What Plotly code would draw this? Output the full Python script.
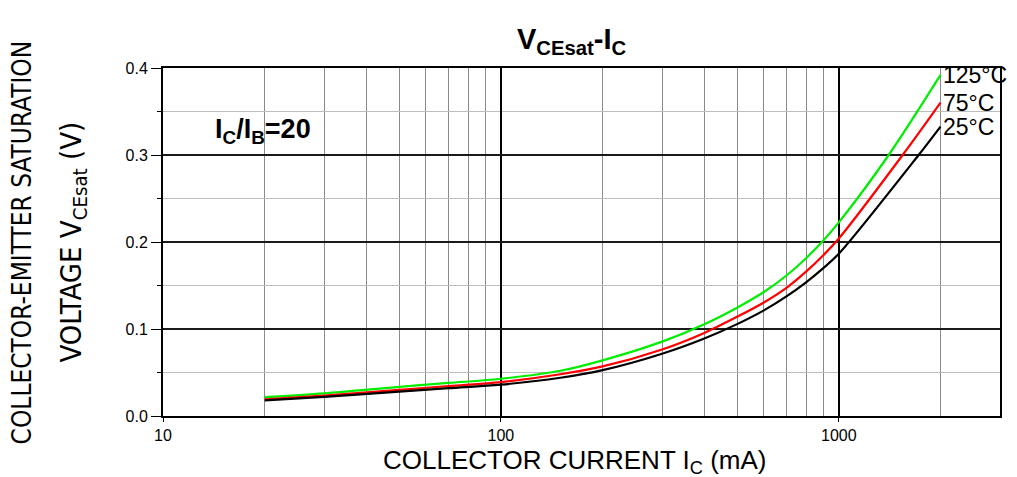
import math
import plotly.graph_objects as go

# Collector current (mA) sample points for each curve
ic_125 = [20, 30, 50, 70, 100, 150, 200, 300, 400, 500, 600, 700, 800, 900, 1000, 1405, 2000]
v_125 = [0.0216, 0.026, 0.0335, 0.038, 0.0428, 0.052, 0.064, 0.0855, 0.1055, 0.1245, 0.1425, 0.1615, 0.1814, 0.2018, 0.2225, 0.30, 0.392]

ic_75 = [20, 30, 50, 70, 100, 150, 200, 300, 400, 500, 600, 700, 800, 900, 1000, 1545, 2000]
v_75 = [0.019, 0.0235, 0.030, 0.0345, 0.039, 0.048, 0.057, 0.0765, 0.0955, 0.114, 0.1305, 0.1473, 0.1659, 0.1848, 0.204, 0.30, 0.3603]

ic_25 = [20, 30, 50, 70, 100, 150, 200, 300, 400, 500, 600, 700, 800, 900, 1000, 1723, 2000]
v_25 = [0.018, 0.022, 0.028, 0.032, 0.036, 0.044, 0.0527, 0.0716, 0.0891, 0.1056, 0.1214, 0.1375, 0.1537, 0.170, 0.1865, 0.30, 0.3327]

series_names = ["125°C", "75°C", "25°C"]
series_colors = ["#00ee00", "#ff0000", "#000000"]

x_tickvals = [10, 100, 1000]
x_ticktext = ["10", "100", "1000"]
x_minorvals = [20, 30, 40, 50, 60, 70, 80, 90, 200, 300, 400, 500, 600, 700, 800, 900, 2000, 3000]
y_tickvals = [0.0, 0.1, 0.2, 0.3, 0.4]
y_ticktext = ["0.0", "0.1", "0.2", "0.3", "0.4"]

FONT = "Liberation Sans, Arial, sans-serif"

fig = go.Figure()
data = [(ic_125, v_125), (ic_75, v_75), (ic_25, v_25)]
for (xs, ys), name, col in zip(data, series_names, series_colors):
    fig.add_trace(go.Scatter(x=xs, y=ys, mode="lines", name=name,
                             line=dict(color=col, width=2.2, shape="spline", smoothing=0.9),
                             showlegend=False, hoverinfo="skip"))
    # annotation x on a log axis is given in log10 units
    fig.add_annotation(x=math.log10(xs[-1]), y=ys[-1], xref="x", yref="y", text=name,
                       showarrow=False, xanchor="left", yanchor="middle", xshift=0,
                       font=dict(family=FONT, size=23, color="black"))

fig.update_xaxes(type="log", range=[1, 3.4771],
                 tickvals=x_tickvals, ticktext=x_ticktext,
                 showgrid=True, gridcolor="black", gridwidth=2.2,
                 minor=dict(tickvals=x_minorvals, showgrid=True, gridcolor="#8a8a8a", gridwidth=1.4,
                            ticks=""),
                 ticks="outside", ticklen=4, tickcolor="black",
                 showline=True, linecolor="black", linewidth=2, mirror=True,
                 tickfont=dict(family=FONT, size=16, color="black"),
                 automargin=False, zeroline=False)
fig.update_yaxes(range=[0, 0.4],
                 tickvals=y_tickvals, ticktext=y_ticktext,
                 showgrid=True, gridcolor="#1a1a1a", gridwidth=1.5,
                 minor=dict(dtick=0.05, showgrid=True, gridcolor="#bdbdbd", gridwidth=1.4,
                            ticks="outside", ticklen=4, tickcolor="black"),
                 ticks="outside", ticklen=10, tickcolor="black",
                 showline=True, linecolor="black", linewidth=2, mirror=True,
                 tickfont=dict(family=FONT, size=16, color="black"),
                 automargin=False, zeroline=False)

# x-axis title
fig.add_annotation(xref="paper", yref="paper", x=0.492, y=-0.13,
                   text="COLLECTOR CURRENT I<sub>C</sub> (mA)", showarrow=False,
                   xanchor="center", yanchor="middle",
                   font=dict(family=FONT, size=26, color="black"))

# y-axis title (two lines)
ytitle_family = "Liberation Sans Narrow, DejaVu Sans Condensed, Liberation Sans"
fig.add_annotation(xref="paper", yref="paper", x=-0.168, y=0.5, textangle=-90,
                   text="COLLECTOR-EMITTER SATURATION", showarrow=False,
                   xanchor="center", yanchor="middle",
                   font=dict(family=ytitle_family, size=26, color="black"))
fig.add_annotation(xref="paper", yref="paper", x=-0.108, y=0.5, textangle=-90,
                   text="VOLTAGE V<sub>CEsat</sub> (V)", showarrow=False,
                   xanchor="center", yanchor="middle",
                   font=dict(family=ytitle_family, size=29, color="black"))

fig.add_annotation(xref="paper", yref="paper", x=0.489, y=1.077,
                   text="<b>V<sub>CEsat</sub>-I<sub>C</sub></b>", showarrow=False,
                   xanchor="center", yanchor="middle",
                   font=dict(family=FONT, size=29, color="black"))
fig.add_annotation(x=1.148, y=0.328, xref="x", yref="y",
                   text="<b>I<sub>C</sub>/I<sub>B</sub>=20</b>", showarrow=False,
                   xanchor="left", yanchor="middle",
                   font=dict(family=FONT, size=27, color="black"))

# page body has an 8px margin, so the figure is sized/offset to compensate
fig.update_layout(width=1009, height=469,
                  margin=dict(l=155, r=17, t=60, b=60.5),
                  plot_bgcolor="white", paper_bgcolor="white")

fig.write_html("out.html")
